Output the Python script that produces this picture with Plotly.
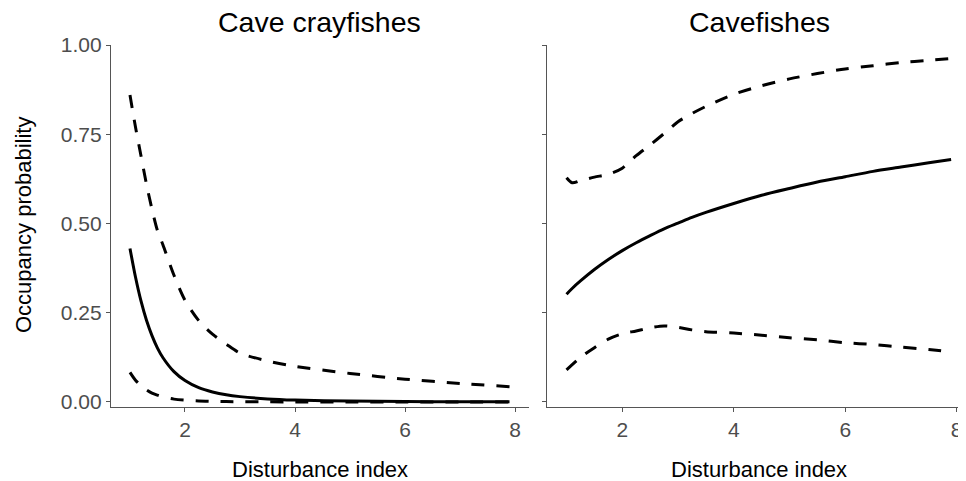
import plotly.graph_objects as go

# ---- Data ----
# Cave crayfishes
cray_x = [1.0, 1.1, 1.2, 1.3, 1.4, 1.5, 1.6, 1.8, 2.0, 2.25, 2.5, 2.75, 3.0, 3.5, 4.0, 5.0, 6.0, 7.0, 7.9]
cray_mean = [0.43, 0.35, 0.283, 0.229, 0.186, 0.151, 0.124, 0.085, 0.06, 0.04, 0.028, 0.02, 0.015, 0.0087, 0.0054, 0.0025, 0.0013, 0.0007, 0.0005]
cray_upper = [0.86, 0.77, 0.69, 0.61, 0.54, 0.48, 0.44, 0.355, 0.285, 0.228, 0.19, 0.162, 0.137, 0.115, 0.1, 0.08, 0.064, 0.052, 0.043]
cray_lower = [0.083, 0.061, 0.046, 0.034, 0.025, 0.019, 0.014, 0.008, 0.005, 0.003, 0.0018, 0.0012, 0.0008, 0.0004, 0.0002, 0.0001, 0.0, 0.0, 0.0]

# Cavefishes
fish_x = [1.0, 1.1, 1.25, 1.5, 1.75, 2.0, 2.25, 2.5, 2.75, 3.0, 3.25, 3.5, 4.0, 4.5, 5.0, 5.5, 6.0, 6.5, 7.0, 7.5, 7.9]
fish_mean = [0.302, 0.318, 0.339, 0.371, 0.399, 0.424, 0.446, 0.466, 0.485, 0.501, 0.517, 0.531, 0.556, 0.579, 0.598, 0.616, 0.631, 0.646, 0.658, 0.670, 0.679]
fish_upper = [0.628, 0.614, 0.62, 0.63, 0.638, 0.655, 0.69, 0.72, 0.752, 0.785, 0.808, 0.828, 0.862, 0.886, 0.905, 0.92, 0.933, 0.942, 0.951, 0.957, 0.962]
fish_lower_x = [1.0, 1.25, 1.5, 1.75, 2.0, 2.25, 2.5, 2.75, 3.0, 3.25, 3.5, 4.0, 4.5, 5.0, 5.5, 6.0, 6.5, 7.0, 7.5, 7.75]
fish_lower = [0.09, 0.125, 0.152, 0.176, 0.191, 0.199, 0.208, 0.213, 0.209, 0.202, 0.197, 0.193, 0.187, 0.18, 0.174, 0.166, 0.161, 0.154, 0.147, 0.143]

panel_titles = ["Cave crayfishes", "Cavefishes"]
x_title = "Disturbance index"
y_title = "Occupancy probability"
x_ticks = [2, 4, 6, 8]
y_ticks = [0.0, 0.25, 0.5, 0.75, 1.0]
y_ticklabels = ["0.00", "0.25", "0.50", "0.75", "1.00"]

# ---- Layout geometry (page pixels; the page body has an 8px margin) ----
W, H = 966, 481
OFF = 8
FONT = "Liberation Sans, Arial, sans-serif"
AXC = "#555555"
TXT = "#4d4d4d"

def px(x):
    return (x - OFF) / W

def py(y):
    return 1 - (y - OFF) / H

solid = dict(color="black", width=3, shape="spline", smoothing=0.8)
dashed = dict(color="black", width=3, dash="13px,12px", shape="spline", smoothing=0.8)

fig = go.Figure()
fig.add_trace(go.Scatter(x=cray_x, y=cray_upper, mode="lines", line=dashed, xaxis="x", yaxis="y"))
fig.add_trace(go.Scatter(x=cray_x, y=cray_lower, mode="lines", line=dashed, xaxis="x", yaxis="y"))
fig.add_trace(go.Scatter(x=cray_x, y=cray_mean, mode="lines", line=solid, xaxis="x", yaxis="y"))
fig.add_trace(go.Scatter(x=fish_x, y=fish_upper, mode="lines", line=dashed, xaxis="x2", yaxis="y2"))
fig.add_trace(go.Scatter(x=fish_lower_x, y=fish_lower, mode="lines", line=dashed, xaxis="x2", yaxis="y2"))
fig.add_trace(go.Scatter(x=fish_x, y=fish_mean, mode="lines", line=solid, xaxis="x2", yaxis="y2"))

common_x = dict(
    range=[0.655, 8.245], tickvals=x_ticks, ticktext=[str(t) for t in x_ticks],
    showgrid=False, zeroline=False, showline=True, linecolor=AXC, linewidth=1.2,
    ticks="outside", ticklen=4, tickcolor=AXC, tickwidth=1.2, automargin=False,
    tickfont=dict(family=FONT, size=21, color=TXT),
)
common_y = dict(
    range=[-0.0132, 1.0], tickvals=y_ticks,
    showgrid=False, zeroline=False, showline=True, linecolor=AXC, linewidth=1.2,
    ticks="outside", ticklen=4, tickcolor=AXC, tickwidth=1.2, automargin=False,
    tickfont=dict(family=FONT, size=21, color=TXT),
    domain=[py(406.7), py(45)],
)

fig.update_layout(
    width=W, height=H, margin=dict(l=0, r=0, t=0, b=0, pad=0, autoexpand=False),
    paper_bgcolor="white", plot_bgcolor="white", showlegend=False,
    xaxis=dict(common_x, domain=[px(111), px(528.5)], anchor="y"),
    xaxis2=dict(common_x, domain=[px(547.3), px(966)], anchor="y2", range=[0.655, 8.167]),
    yaxis=dict(common_y, anchor="x", ticktext=y_ticklabels),
    yaxis2=dict(common_y, anchor="x2", showticklabels=False),
)

ann = []
for cx, t in [(319.8, panel_titles[0]), (759, panel_titles[1])]:
    ann.append(dict(text=t, x=px(cx), y=py(22), xref="paper", yref="paper", borderpad=0,
                    showarrow=False, font=dict(family=FONT, size=28.5, color="black"),
                    xanchor="center", yanchor="middle"))
    ann.append(dict(text=x_title, x=px(cx), y=py(469), xref="paper", yref="paper",
                    showarrow=False, font=dict(family=FONT, size=22, color="black"),
                    xanchor="center", yanchor="middle"))
ann.append(dict(text=y_title, x=px(24), y=py(225), xref="paper", yref="paper", textangle=-90,
                showarrow=False, font=dict(family=FONT, size=22, color="black"),
                xanchor="center", yanchor="middle"))
fig.update_layout(annotations=ann)

fig.write_html("out.html")
